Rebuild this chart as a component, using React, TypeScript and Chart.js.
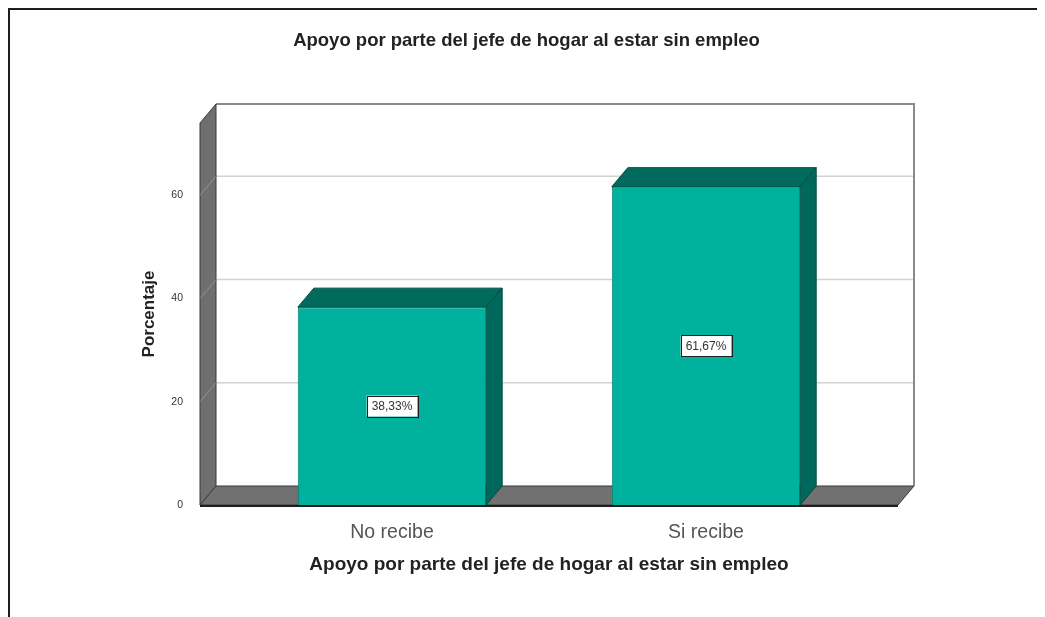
import React, { useEffect, useRef } from "react";
import { Chart, registerables } from "chart.js";

Chart.register(...registerables);

const chartTitle = "Apoyo por parte del jefe de hogar al estar sin empleo";
const xAxisTitle = "Apoyo por parte del jefe de hogar al estar sin empleo";
const yAxisTitle = "Porcentaje";
const categories = ["No recibe", "Si recibe"];
const percentages = [38.33, 61.67];
const yTicks = [0, 20, 40, 60];
const yMax = 74;

const FONT = "'Liberation Sans', Arial, sans-serif";
const DX = 16;
const DY = -19;
const EXT = 35;

const frame3D = {
  id: "frame3D",
  beforeDraw(chart: any) {
    const { ctx, width, height } = chart;
    ctx.save();
    ctx.fillStyle = "#1e1e1e";
    ctx.fillRect(0, 0, width, 2);
    ctx.fillRect(0, 0, 2, height);
    ctx.restore();
  },
  beforeDatasetsDraw(chart: any) {
    const { ctx, chartArea: a, scales } = chart;
    const y = scales.y;
    const L = a.left - EXT;
    const R = a.right + EXT;
    const B = y.getPixelForValue(0);
    const T = y.getPixelForValue(yMax);
    ctx.save();
    ctx.fillStyle = "#ffffff";
    ctx.fillRect(L + DX, T + DY, R - L, B - T);
    ctx.strokeStyle = "#d2d2d2";
    ctx.lineWidth = 1.5;
    yTicks.forEach((v) => {
      if (v === 0) return;
      const py = y.getPixelForValue(v) + DY;
      ctx.beginPath();
      ctx.moveTo(L + DX, py);
      ctx.lineTo(R + DX, py);
      ctx.stroke();
    });
    ctx.strokeStyle = "#8a8a8a";
    ctx.lineWidth = 2;
    ctx.beginPath();
    ctx.moveTo(L + DX, T + DY);
    ctx.lineTo(R + DX, T + DY);
    ctx.lineTo(R + DX, B + DY);
    ctx.stroke();
    ctx.fillStyle = "#6f6f6f";
    ctx.strokeStyle = "#3a3a3a";
    ctx.lineWidth = 1;
    ctx.beginPath();
    ctx.moveTo(L, T);
    ctx.lineTo(L + DX, T + DY);
    ctx.lineTo(L + DX, B + DY);
    ctx.lineTo(L, B);
    ctx.closePath();
    ctx.fill();
    ctx.stroke();
    ctx.strokeStyle = "rgba(255,255,255,0.25)";
    ctx.lineWidth = 1;
    yTicks.forEach((v) => {
      if (v === 0) return;
      const py = y.getPixelForValue(v);
      ctx.beginPath();
      ctx.moveTo(L, py);
      ctx.lineTo(L + DX, py + DY);
      ctx.stroke();
    });
    ctx.fillStyle = "#717171";
    ctx.strokeStyle = "#3a3a3a";
    ctx.beginPath();
    ctx.moveTo(L, B);
    ctx.lineTo(L + DX, B + DY);
    ctx.lineTo(R + DX, B + DY);
    ctx.lineTo(R, B);
    ctx.closePath();
    ctx.fill();
    ctx.stroke();
    ctx.restore();
  },
  afterDatasetsDraw(chart: any) {
    const { ctx, chartArea: a, scales } = chart;
    const y = scales.y;
    const L = a.left - EXT;
    const R = a.right + EXT;
    const B = y.getPixelForValue(0);
    const meta = chart.getDatasetMeta(0);
    ctx.save();
    meta.data.forEach((bar: any, i: number) => {
      const { x, y: top, base, width } = bar.getProps(["x", "y", "base", "width"], true);
      const l = x - width / 2;
      const r = x + width / 2;
      ctx.lineWidth = 1;
      ctx.strokeStyle = "#004f44";
      ctx.fillStyle = "#006b5d";
      ctx.beginPath();
      ctx.moveTo(l, top);
      ctx.lineTo(l + DX, top + DY);
      ctx.lineTo(r + DX, top + DY);
      ctx.lineTo(r, top);
      ctx.closePath();
      ctx.fill();
      ctx.stroke();
      ctx.fillStyle = "#00685a";
      ctx.beginPath();
      ctx.moveTo(r, top);
      ctx.lineTo(r + DX, top + DY);
      ctx.lineTo(r + DX, base + DY);
      ctx.lineTo(r, base);
      ctx.closePath();
      ctx.fill();
      ctx.stroke();
      const v = percentages[i];
      const text = v.toFixed(2).replace(".", ",") + "%";
      ctx.font = `12px ${FONT}`;
      const tw = ctx.measureText(text).width;
      const cy = (top + base) / 2;
      const bw = tw + 10;
      const bh = 21;
      ctx.fillStyle = "#ffffff";
      ctx.fillRect(x - bw / 2, cy - bh / 2, bw, bh);
      ctx.strokeStyle = "#1e1e1e";
      ctx.lineWidth = 1;
      ctx.strokeRect(Math.round(x - bw / 2) + 0.5, Math.round(cy - bh / 2) + 0.5, Math.round(bw), bh);
      ctx.fillStyle = "#333333";
      ctx.textAlign = "center";
      ctx.textBaseline = "middle";
      ctx.fillText(text, x, cy + 1);
    });
    ctx.strokeStyle = "#1e1e1e";
    ctx.lineWidth = 2;
    ctx.beginPath();
    ctx.moveTo(L, B + 1);
    ctx.lineTo(R, B + 1);
    ctx.stroke();
    ctx.restore();
  },
};

export default function App() {
  const ref = useRef<HTMLCanvasElement>(null);
  useEffect(() => {
    if (!ref.current) return;
    const chart = new Chart(ref.current, {
      type: "bar",
      data: {
        labels: categories,
        datasets: [
          {
            data: percentages,
            backgroundColor: "#00b19d",
            borderColor: "#00806f",
            borderWidth: 1,
            barPercentage: 0.6,
            categoryPercentage: 1.0,
          },
        ],
      },
      options: {
        animation: false,
        responsive: false,
        maintainAspectRatio: false,
        layout: { padding: { left: 0, right: 0, top: 0, bottom: 0 } },
        plugins: {
          legend: { display: false },
          tooltip: { enabled: false },
          title: {
            display: true,
            text: chartTitle,
            color: "#222222",
            font: { family: FONT, size: 18.5, weight: "bold" },
            padding: { top: 22, bottom: 70.8 },
          },
        },
        scales: {
          x: {
            type: "category",
            grid: { display: false },
            border: { display: false },
            ticks: {
              color: "#555555",
              font: { family: FONT, size: 19.5 },
              padding: 8.3,
            },
            title: {
              display: true,
              text: xAxisTitle,
              color: "#222222",
              font: { family: FONT, size: 19, weight: "bold" },
              padding: { top: 0, bottom: 40.6 },
            },
            afterFit: (s: any) => {
              s.height = 112;
            },
          },
          y: {
            type: "linear",
            position: "left",
            min: 0,
            max: yMax,
            grid: { display: false },
            border: { display: false },
            afterBuildTicks: (s: any) => {
              s.ticks = yTicks.map((v) => ({ value: v }));
            },
            ticks: {
              color: "#333333",
              font: { family: FONT, size: 10.5 },
              padding: 44,
            },
            title: {
              display: true,
              text: yAxisTitle,
              color: "#222222",
              font: { family: FONT, size: 17, weight: "bold" },
              padding: { top: 131, bottom: 0 },
            },
            afterFit: (s: any) => {
              s.width = 227;
            },
          },
          yR: {
            type: "linear",
            position: "right",
            display: true,
            grid: { display: false },
            border: { display: false },
            ticks: { display: false },
            afterFit: (s: any) => {
              s.width = 182;
            },
          },
        },
      },
      plugins: [frame3D],
    } as any);
    return () => chart.destroy();
  }, []);
  return (
    <canvas
      ref={ref}
      width={1037}
      height={609}
      style={{ display: "block", width: 1037, height: 609 }}
    />
  );
}
